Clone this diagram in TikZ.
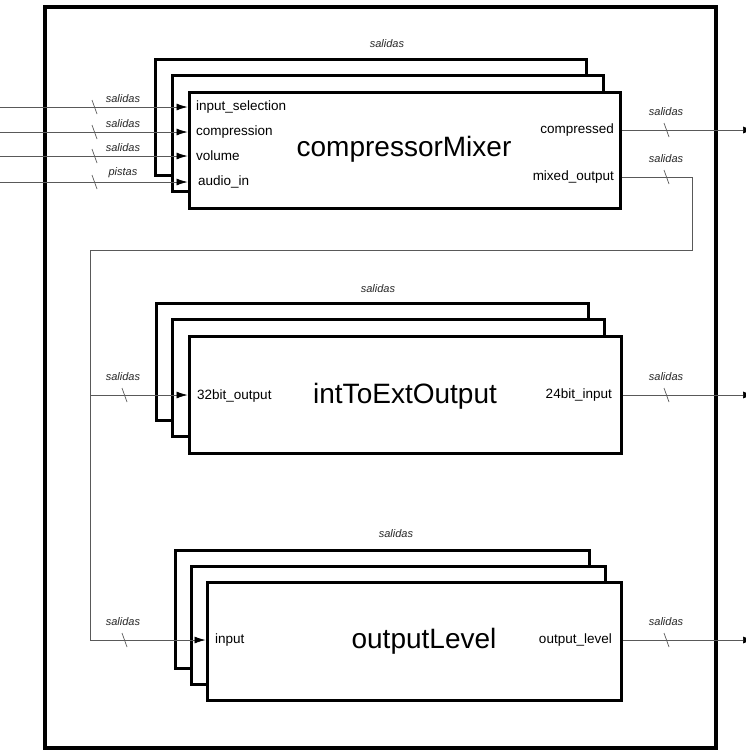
\documentclass[tikz,border=0pt]{standalone}
\usepackage{fontspec}
\setmainfont{Liberation Sans}
\usetikzlibrary{arrows.meta}
\tikzset{
  capa/.style={draw, line width=3pt, fill=white, inner sep=0pt},
  puerto/.style={font=\fontsize{13.5}{13.5}\selectfont, inner sep=0pt},
  titulo/.style={font=\fontsize{28}{28}\selectfont, inner sep=0pt},
  etiq/.style={font=\itshape\fontsize{11}{11}\selectfont, text=black!85, inner sep=0pt},
  bus/.style={draw=black!65, line width=0.7pt},
  flecha/.style={bus, -{Latex[length=11pt,width=7pt,color=black]}},
  corte/.style={draw=black!65, line width=0.7pt},
}
\begin{document}
\begin{tikzpicture}[x=1pt,y=-1pt]
  \useasboundingbox (0,0) rectangle (745,750);
  % marco exterior
  \draw[line width=4pt] (45,7) rectangle (716,748);

  % compressorMixer
  \foreach \k in {2,1,0} {
      \node[capa, minimum width=431pt, minimum height=116pt] (cm\k) at ({404.5-17*\k},{150-16.5*\k}) {};
    }
  \node[etiq] (cmb) at (387,44) {salidas};
  \node[titulo] (cmt) at (404,149) {compressorMixer};
  \node[puerto, anchor=west] (sel) at (196,107) {input\_selection};
  \node[puerto, anchor=west] (comp) at (196,132) {compression};
  \node[puerto, anchor=west] (vol) at (196,156) {volume};
  \node[puerto, anchor=west] (aud) at (198,182) {audio\_in};
  \node[puerto, anchor=east] (cmo) at (614,130) {compressed};
  \node[puerto, anchor=east] (mix) at (614,177) {mixed\_output};

  % intToExtOutput
  \foreach \k in {2,1,0} {
      \node[capa, minimum width=432pt, minimum height=117pt] (ie\k) at ({405-16.5*\k},{394.5-16.5*\k}) {};
    }
  \node[etiq] (ieb) at (378,289) {salidas};
  \node[titulo] (iet) at (405,396) {intToExtOutput};
  \node[puerto, anchor=west] (ein) at (197,396) {32bit\_output};
  \node[puerto, anchor=east] (eout) at (612,395) {24bit\_input};

  % outputLevel
  \foreach \k in {2,1,0} {
      \node[capa, minimum width=414pt, minimum height=118pt] (ol\k) at ({414-16*\k},{641-16*\k}) {};
    }
  \node[etiq] (olb) at (396,534) {salidas};
  \node[titulo] (olt) at (424,641) {outputLevel};
  \node[puerto, anchor=west] (lin) at (215,640) {input};
  \node[puerto, anchor=east] (lout) at (612,640) {output\_level};

  % entradas de compressorMixer
  \foreach \y/\p/\t in {107/sel/salidas,132/comp/salidas,156/vol/salidas,182/aud/pistas} {
      \coordinate (e\p) at (0,\y);
      \draw[flecha] (e\p) -- (cm0.west |- e\p);
      \draw[corte] (92,\y-7) -- (97,\y+7);
      \node[etiq, anchor=south] (t\p) at (123,\y-4) {\t};
    }

  % salidas hacia fuera
  \foreach \y/\p in {130/cm,395/ie,640/ol} {
      \coordinate (s\p) at (754,\y);
      \draw[flecha] (\p0.east |- s\p) -- (s\p);
      \draw[corte] (664,\y-7) -- (669,\y+7);
      \node[etiq, anchor=south] (u\p) at (666,\y-14) {salidas};
    }

  % realimentacion de mixed_output
  \coordinate (m1) at (692,177);
  \coordinate (m2) at (692,250);
  \coordinate (m3) at (90,250);
  \coordinate (m4) at (90,640);
  \coordinate (m5) at (90,395);
  \draw[corte] (664,170) -- (669,184);
  \node[etiq, anchor=south] (umix) at (666,163) {salidas};
  \draw[bus] (cm0.east |- m1) -- (m1) -- (m2) -- (m3) -- (m4);
  \draw[flecha] (m4) -- (ol0.west |- m4);
  \draw[flecha] (m5) -- (ie0.west |- m5);
  \foreach \y in {395,640} {
      \draw[corte] (122,\y-7) -- (127,\y+7);
      \node[etiq, anchor=south] at (123,\y-14) {salidas};
    }
\end{tikzpicture}
\end{document}
